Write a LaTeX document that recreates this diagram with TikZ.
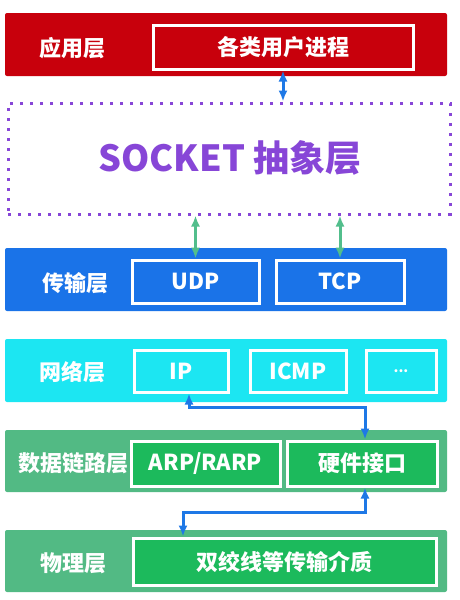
\documentclass[tikz,border=0pt]{standalone}
\usepackage{fontspec}
\setmainfont{Noto Sans CJK SC}
\usetikzlibrary{arrows.meta, positioning}
\definecolor{appred}{RGB}{200, 0, 12}
\definecolor{sockpurple}{RGB}{135, 70, 215}
\definecolor{transblue}{RGB}{26, 115, 232}
\definecolor{netcyan}{RGB}{28, 230, 242}
\definecolor{linkgreen}{RGB}{82, 186, 132}
\definecolor{boxgreen}{RGB}{28, 186, 92}
\definecolor{arrblue}{RGB}{30, 120, 230}
\definecolor{arrgreen}{RGB}{82, 190, 140}
\tikzset{>={Latex[length=11pt, width=9pt]}}
\tikzset{
  layerbox/.style = {minimum width = 442, minimum height = 63, rounded corners = 2pt, inner sep = 0},
  innerbox/.style = {draw = white, line width = 3pt, minimum height = 44, inner sep = 0,
                     text = white, font = \fontsize{22}{25}\selectfont\bfseries},
  layername/.style = {text = white, font = \fontsize{22}{25}\selectfont\bfseries},
  barrow/.style = {arrblue, line width = 3pt, <->},
  garrow/.style = {arrgreen, line width = 3pt, <->}
}

\begin{document}
\begin{tikzpicture}[x = 1pt, y = -1pt]
\useasboundingbox (0, 0) rectangle (459, 600);

% layers
\node[layerbox, fill = appred] (app) at (226, 44.5) {};
\node[layerbox, minimum height = 111, draw = sockpurple, line width = 3pt,
      dash pattern = on 3pt off 7pt, rounded corners = 0] (sock) at (229, 158.5) {};
\node[layerbox, fill = transblue] (trans) at (226, 279.5) {};
\node[layerbox, fill = netcyan] (net) at (226, 370.5) {};
\node[layerbox, minimum height = 62, fill = linkgreen] (link) at (226, 461) {};
\node[layerbox, minimum height = 62, fill = linkgreen] (phy) at (226, 561) {};

% layer names
\node[layername] at (72, 48) {应用层};
\node[text = sockpurple, font = \fontsize{36}{40}\selectfont\bfseries] at (230, 158) {SOCKET 抽象层};
\node[layername] at (75, 283) {传输层};
\node[layername] at (72, 372) {网络层};
\node[layername] at (74, 463) {数据链路层};
\node[layername] at (73, 563) {物理层};

% protocol boxes
\node[innerbox, minimum width = 260, fill = appred] (proc) at (283, 47) {各类用户进程};
\node[innerbox, minimum width = 127, minimum height = 43, fill = transblue] (udp) at (195.5, 281.5) {UDP};
\node[innerbox, minimum width = 128, minimum height = 43, fill = transblue] (tcp) at (340, 281.5) {TCP};
\node[innerbox, minimum width = 94, minimum height = 42, fill = netcyan] (ip) at (181, 371) {IP};
\node[innerbox, minimum width = 96, minimum height = 42, fill = netcyan] (icmp) at (298, 371) {ICMP};
\node[innerbox, minimum width = 70, minimum height = 42, fill = netcyan, font = \fontsize{14}{16}\selectfont\bfseries] (more) at (401, 371) {...};
\node[innerbox, minimum width = 149, minimum height = 45, fill = boxgreen] (arp) at (205.5, 463.5) {ARP/RARP};
\node[innerbox, minimum width = 150, minimum height = 45, fill = boxgreen] (hw) at (362, 463.5) {硬件接口};
\node[innerbox, minimum width = 303, minimum height = 47, fill = boxgreen] (med) at (284.5, 561.5) {双绞线等传输介质};

% connectors
\draw[barrow] (proc.south) -- (proc.south |- sock.north);
\draw[garrow] (udp.north |- sock.south) -- (udp.north);
\draw[garrow] (tcp.north |- sock.south) -- (tcp.north);
\draw[barrow] ([xshift = 8]ip.south) -- ++(0, 14) -| ([xshift = 3]hw.north);
\draw[barrow] ([xshift = 3]hw.south) -- ++(0, 25) -| ([xshift = 2]med.north -| ip.south);

\end{tikzpicture}
\end{document}
